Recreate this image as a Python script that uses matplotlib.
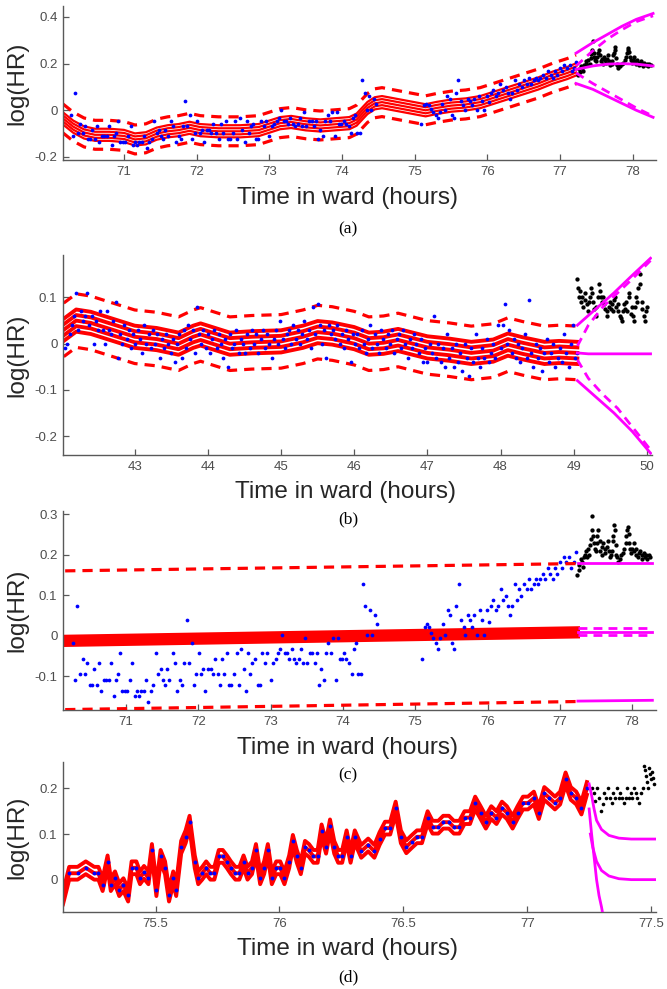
import numpy as np
import matplotlib
matplotlib.use("Agg")
import matplotlib.pyplot as plt
from matplotlib.ticker import FixedLocator, FixedFormatter

# ---------------- data (log HR against time in ward, hours) ----------------
# observed heart rate, record used in panels (a) and (c)
obs_ac = [
    (70.27, -0.019), (70.30, -0.110), (70.33, 0.074), (70.37, -0.096), (70.40, -0.057), (70.43, -0.096),
    (70.46, -0.069), (70.50, -0.122), (70.53, -0.122), (70.56, -0.083), (70.60, -0.122), (70.63, -0.069),
    (70.66, -0.136), (70.70, -0.110), (70.73, -0.110), (70.76, -0.110), (70.79, -0.069), (70.83, -0.150),
    (70.86, -0.110), (70.89, -0.096), (70.92, -0.044), (70.95, -0.136), (70.99, -0.136), (71.02, -0.136),
    (71.05, -0.110), (71.09, -0.069), (71.12, -0.150), (71.15, -0.136), (71.18, -0.150), (71.21, -0.136),
    (71.25, -0.136), (71.28, -0.110), (71.31, -0.163), (71.35, -0.136), (71.38, -0.122), (71.41, -0.044),
    (71.45, -0.096), (71.48, -0.083), (71.51, -0.110), (71.54, -0.122), (71.57, -0.083), (71.60, -0.110),
    (71.65, -0.044), (71.68, -0.069), (71.71, -0.136), (71.75, -0.110), (71.78, -0.122), (71.81, -0.069),
    (71.84, 0.039), (71.87, -0.069), (71.91, -0.019), (71.94, -0.122), (71.97, -0.096), (72.01, -0.044),
    (72.04, -0.096), (72.07, -0.083), (72.10, -0.136), (72.14, -0.083), (72.17, -0.083), (72.20, -0.096),
    (72.23, -0.057), (72.27, -0.096), (72.30, -0.122), (72.33, -0.057), (72.36, -0.096), (72.40, -0.044),
    (72.43, -0.122), (72.46, -0.122), (72.50, -0.096), (72.53, -0.044), (72.56, -0.122), (72.59, -0.032),
    (72.63, -0.083), (72.66, -0.136), (72.69, -0.044), (72.72, -0.096), (72.75, -0.069), (72.78, -0.057),
    (72.82, -0.122), (72.85, -0.122), (72.88, -0.044), (72.92, -0.069), (72.95, -0.044), (73.00, -0.110),
    (73.04, -0.069), (73.07, -0.057), (73.10, -0.044), (73.13, -0.032), (73.16, 0.002), (73.20, -0.044),
    (73.23, -0.044), (73.26, -0.057), (73.29, -0.032), (73.32, -0.057), (73.35, -0.069), (73.39, -0.057),
    (73.42, -0.032), (73.45, -0.069), (73.48, -0.006), (73.51, -0.069), (73.55, -0.044), (73.58, -0.044),
    (73.61, -0.069), (73.64, -0.044), (73.67, -0.123), (73.70, -0.083), (73.74, -0.110), (73.77, -0.044),
    (73.80, -0.019), (73.83, -0.044), (73.86, -0.006), (73.90, -0.110), (73.93, -0.006), (73.96, -0.057),
    (73.99, -0.057), (74.02, -0.044), (74.05, -0.057), (74.09, -0.069), (74.12, -0.096), (74.15, -0.032),
    (74.18, -0.019), (74.21, -0.096), (74.25, -0.096), (74.28, 0.128), (74.31, 0.074), (74.34, 0.002),
    (74.37, 0.062), (74.40, 0.002), (74.44, 0.050), (74.47, 0.029),
    (75.09, -0.057), (75.13, 0.021), (75.16, 0.029), (75.19, 0.021), (75.22, 0.007), (75.25, -0.006),
    (75.29, -0.019), (75.32, -0.032), (75.35, -0.006), (75.38, 0.029), (75.41, 0.002), (75.45, 0.062),
    (75.48, 0.050), (75.51, -0.019), (75.54, -0.032), (75.57, 0.074), (75.60, 0.128), (75.64, 0.039),
    (75.67, 0.021), (75.69, 0.002), (75.73, 0.050), (75.76, 0.039), (75.79, 0.021), (75.82, 0.050),
    (75.86, 0.002), (75.89, 0.062), (75.92, 0.039), (75.95, 0.002), (75.99, 0.062), (76.02, 0.034),
    (76.05, 0.074), (76.08, 0.087), (76.12, 0.062), (76.15, 0.074), (76.18, 0.114), (76.21, 0.087),
    (76.25, 0.098), (76.28, 0.074), (76.31, 0.050), (76.34, 0.074), (76.38, 0.128), (76.41, 0.087),
    (76.44, 0.114), (76.47, 0.098), (76.51, 0.128), (76.54, 0.114), (76.57, 0.140), (76.60, 0.114),
    (76.64, 0.128), (76.67, 0.140), (76.70, 0.128), (76.73, 0.140), (76.77, 0.153), (76.80, 0.140),
    (76.83, 0.167), (76.87, 0.153), (76.90, 0.140), (76.93, 0.167), (76.96, 0.153), (77.00, 0.181),
    (77.03, 0.167), (77.06, 0.194), (77.09, 0.181), (77.13, 0.194), (77.16, 0.167), (77.19, 0.181),
    (77.22, 0.206),
]
# held-out heart rate for panels (a) and (c)
test_ac = [
    (77.24, 0.151), (77.26, 0.175), (77.27, 0.162), (77.29, 0.190), (77.30, 0.183), (77.32, 0.170),
    (77.33, 0.194), (77.35, 0.200), (77.36, 0.210), (77.38, 0.194), (77.39, 0.215), (77.41, 0.200),
    (77.42, 0.225), (77.43, 0.240), (77.44, 0.260), (77.45, 0.295), (77.46, 0.247), (77.47, 0.230),
    (77.48, 0.215), (77.50, 0.210), (77.51, 0.230), (77.52, 0.247), (77.53, 0.260), (77.55, 0.235),
    (77.56, 0.210), (77.58, 0.220), (77.59, 0.200), (77.60, 0.230), (77.62, 0.215), (77.63, 0.204),
    (77.65, 0.220), (77.66, 0.235), (77.68, 0.210), (77.69, 0.194), (77.71, 0.200), (77.72, 0.210),
    (77.73, 0.235), (77.74, 0.247), (77.75, 0.273), (77.76, 0.260), (77.77, 0.225), (77.78, 0.200),
    (77.79, 0.194), (77.80, 0.183), (77.83, 0.190), (77.85, 0.200), (77.87, 0.204), (77.89, 0.215),
    (77.91, 0.230), (77.92, 0.247), (77.93, 0.260), (77.94, 0.268), (77.95, 0.250), (77.96, 0.230),
    (77.97, 0.215), (77.99, 0.204), (78.00, 0.215), (78.02, 0.230), (78.03, 0.210), (78.05, 0.200),
    (78.06, 0.215), (78.08, 0.194), (78.09, 0.204), (78.11, 0.210), (78.13, 0.200), (78.14, 0.190),
    (78.16, 0.204), (78.18, 0.194), (78.19, 0.200), (78.21, 0.190), (78.23, 0.200), (78.25, 0.194),
]

# panel (a): GP fit with short lengthscale
a_mean = [
    (70.16, -0.035), (70.30, -0.070), (70.45, -0.095), (70.60, -0.105), (70.80, -0.105), (71.00, -0.110),
    (71.15, -0.125), (71.30, -0.120), (71.45, -0.100), (71.60, -0.090), (71.75, -0.085), (71.90, -0.075),
    (72.05, -0.085), (72.30, -0.090), (72.60, -0.090), (72.85, -0.085), (73.00, -0.070), (73.15, -0.055),
    (73.30, -0.050), (73.50, -0.060), (73.70, -0.065), (73.90, -0.060), (74.10, -0.055), (74.20, -0.040),
    (74.35, 0.010), (74.45, 0.030), (74.55, 0.035), (75.15, 0.000), (75.30, 0.010), (75.50, 0.020),
    (75.70, 0.025), (75.90, 0.035), (76.10, 0.055), (76.30, 0.075), (76.50, 0.095), (76.70, 0.115),
    (76.90, 0.140), (77.10, 0.160), (77.22, 0.175),
]
a_inner = [0.013, 0.026]
a_outer = 0.062
a_fc_upper = [(77.22, 0.245), (77.45, 0.290), (77.65, 0.325), (77.85, 0.360), (78.05, 0.390), (78.28, 0.415)]
a_fc_upper_dash = [(77.22, 0.190), (77.45, 0.255), (77.65, 0.305), (77.85, 0.345), (78.05, 0.380), (78.28, 0.405)]
a_fc_mean = [(77.22, 0.175), (77.45, 0.190), (77.65, 0.198), (77.85, 0.200), (78.05, 0.198), (78.28, 0.190)]
a_fc_lower_dash = [(77.22, 0.160), (77.45, 0.115), (77.65, 0.080), (77.85, 0.045), (78.05, 0.010), (78.28, -0.025)]
a_fc_lower = [(77.22, 0.115), (77.45, 0.090), (77.65, 0.060), (77.85, 0.030), (78.05, 0.000), (78.28, -0.030)]

# panel (b): a second patient
obs_b = [
    (42.05, -0.01), (42.08, 0.00), (42.11, 0.02), (42.14, 0.04), (42.17, 0.06), (42.20, 0.11), (42.23, 0.03),
    (42.26, 0.07), (42.29, 0.05), (42.32, 0.06), (42.35, 0.11), (42.38, 0.04), (42.41, 0.06), (42.44, 0.00),
    (42.47, 0.05), (42.50, 0.03), (42.53, 0.07), (42.56, 0.03), (42.59, 0.00), (42.62, 0.07), (42.65, 0.03),
    (42.68, 0.02), (42.71, 0.05), (42.74, 0.09), (42.77, -0.03), (42.80, 0.02), (42.83, 0.00), (42.86, 0.04),
    (42.89, 0.01), (42.92, 0.03), (42.95, -0.01), (42.98, 0.02), (43.01, 0.00), (43.04, 0.03), (43.07, 0.01),
    (43.10, -0.02), (43.13, 0.04), (43.16, 0.00), (43.19, 0.02), (43.22, -0.01), (43.25, 0.03), (43.28, 0.00),
    (43.31, 0.02), (43.34, -0.03), (43.37, 0.01), (43.40, -0.01), (43.43, 0.02), (43.46, 0.00), (43.49, -0.02),
    (43.52, 0.01), (43.55, -0.04), (43.58, 0.00), (43.61, 0.02), (43.64, -0.03), (43.67, 0.03), (43.70, -0.01),
    (43.73, 0.04), (43.76, 0.01), (43.79, 0.03), (43.82, -0.02), (43.85, 0.08), (43.88, 0.02), (43.91, 0.00),
    (43.94, 0.03), (43.97, -0.01), (44.00, 0.02), (44.03, -0.02), (44.06, 0.01), (44.09, 0.03), (44.12, -0.01),
    (44.15, 0.02), (44.18, 0.00), (44.21, -0.03), (44.24, 0.01), (44.27, -0.05), (44.30, 0.02), (44.33, -0.01),
    (44.36, 0.00), (44.39, 0.03), (44.42, -0.02), (44.45, 0.01), (44.48, 0.00), (44.51, -0.02), (44.54, 0.02),
    (44.57, -0.01), (44.60, 0.03), (44.63, 0.00), (44.66, 0.02), (44.69, -0.02), (44.72, 0.01), (44.75, 0.03),
    (44.78, -0.01), (44.81, 0.02), (44.84, 0.00), (44.87, -0.03), (44.90, 0.01), (44.93, 0.03), (44.96, 0.00),
    (44.99, 0.05), (45.02, 0.01), (45.05, -0.01), (45.08, 0.02), (45.11, 0.03), (45.14, 0.00), (45.17, 0.04),
    (45.20, 0.01), (45.23, 0.03), (45.26, 0.00), (45.29, 0.02), (45.32, 0.05), (45.35, 0.01), (45.38, 0.03),
    (45.41, -0.01), (45.44, 0.08), (45.47, 0.02), (45.50, 0.085), (45.53, 0.04), (45.56, 0.00), (45.59, 0.03),
    (45.62, -0.03), (45.65, 0.04), (45.68, 0.02), (45.71, 0.03), (45.74, 0.01), (45.77, 0.04), (45.80, 0.00),
    (45.83, 0.02), (45.86, -0.01), (45.89, 0.03), (45.92, 0.01), (45.95, -0.04), (45.98, 0.02), (46.01, 0.00),
    (46.04, 0.02), (46.07, -0.01), (46.10, 0.03), (46.13, 0.00), (46.16, -0.02), (46.19, 0.01), (46.22, 0.04),
    (46.25, -0.01), (46.28, 0.02), (46.31, 0.00), (46.34, -0.02), (46.37, 0.03), (46.40, 0.01), (46.43, -0.01),
    (46.46, 0.02), (46.49, 0.00), (46.52, 0.03), (46.55, -0.02), (46.58, 0.01), (46.61, 0.02), (46.64, -0.01),
    (46.67, 0.03), (46.70, 0.00), (46.73, -0.03), (46.76, 0.01), (46.79, -0.01), (46.82, 0.02), (46.85, 0.00),
    (46.88, -0.02), (46.91, 0.01), (46.94, -0.04), (46.97, -0.01), (47.00, -0.04), (47.03, 0.00), (47.06, -0.02),
    (47.09, 0.06), (47.12, -0.03), (47.15, 0.00), (47.18, -0.04), (47.21, -0.01), (47.24, -0.05), (47.27, 0.02),
    (47.30, -0.03), (47.33, -0.01), (47.36, -0.05), (47.39, 0.00), (47.42, -0.04), (47.45, -0.02), (47.48, -0.06),
    (47.51, 0.00), (47.54, -0.03), (47.57, -0.07), (47.60, -0.01), (47.63, -0.04), (47.66, 0.02), (47.69, -0.03),
    (47.72, -0.05), (47.75, -0.01), (47.78, -0.03), (47.81, 0.01), (47.84, -0.04), (47.87, -0.02), (47.90, 0.00),
    (47.93, -0.03), (47.96, 0.04), (48.00, -0.01), (48.03, 0.04), (48.06, 0.085), (48.09, 0.00), (48.12, 0.03),
    (48.15, -0.02), (48.18, 0.01), (48.21, -0.03), (48.24, 0.00), (48.27, -0.04), (48.30, -0.01), (48.33, 0.02),
    (48.36, -0.03), (48.39, 0.095), (48.42, -0.02), (48.45, -0.05), (48.48, 0.00), (48.51, -0.03), (48.54, -0.01),
    (48.57, -0.06), (48.60, -0.02), (48.63, 0.01), (48.66, -0.04), (48.69, -0.02), (48.72, 0.00), (48.75, -0.05),
    (48.78, -0.03), (48.81, -0.01), (48.84, -0.04), (48.87, 0.02), (48.90, -0.02), (48.93, -0.05), (48.96, 0.00),
    (48.99, 0.04), (49.02, -0.03), (49.05, -0.02),
]
test_b = [
    (49.05, 0.140), (49.06, 0.120), (49.07, 0.100), (49.09, 0.115), (49.10, 0.090), (49.12, 0.100),
    (49.13, 0.080), (49.15, 0.110), (49.16, 0.095), (49.18, 0.085), (49.19, 0.070), (49.21, 0.090),
    (49.22, 0.100), (49.24, 0.120), (49.25, 0.110), (49.27, 0.090), (49.28, 0.075), (49.30, 0.060),
    (49.31, 0.080), (49.33, 0.100), (49.34, 0.130), (49.36, 0.115), (49.37, 0.100), (49.39, 0.090),
    (49.40, 0.100), (49.42, 0.085), (49.43, 0.075), (49.45, 0.070), (49.46, 0.060), (49.48, 0.080),
    (49.49, 0.090), (49.51, 0.075), (49.52, 0.085), (49.54, 0.070), (49.55, 0.095), (49.57, 0.100),
    (49.58, 0.080), (49.60, 0.070), (49.61, 0.085), (49.63, 0.060), (49.64, 0.055), (49.66, 0.050),
    (49.67, 0.070), (49.69, 0.085), (49.70, 0.075), (49.72, 0.090), (49.73, 0.070), (49.75, 0.110),
    (49.76, 0.100), (49.78, 0.065), (49.79, 0.080), (49.81, 0.060), (49.82, 0.050), (49.84, 0.080),
    (49.85, 0.100), (49.87, 0.090), (49.88, 0.120), (49.90, 0.150), (49.91, 0.130), (49.93, 0.090),
    (49.94, 0.075), (49.96, 0.060), (49.97, 0.050), (49.99, 0.070), (50.00, 0.080),
]
b_mean = [
    (42.03, 0.030), (42.20, 0.050), (42.40, 0.045), (42.60, 0.035), (42.80, 0.025), (43.00, 0.015),
    (43.30, 0.010), (43.60, 0.000), (43.80, 0.015), (43.90, 0.020), (44.10, 0.010), (44.30, 0.000),
    (44.60, 0.003), (45.00, 0.005), (45.30, 0.015), (45.50, 0.025), (45.70, 0.022), (46.00, 0.012),
    (46.20, 0.000), (46.40, 0.002), (46.60, 0.008), (46.80, 0.000), (47.00, -0.008), (47.30, -0.013),
    (47.60, -0.020), (47.90, -0.015), (48.10, -0.002), (48.30, -0.010), (48.60, -0.020), (48.80, -0.018),
    (49.05, -0.020),
]
b_inner = [0.012, 0.024]
b_outer = 0.058
b_fc_upper = [(49.05, 0.040), (49.30, 0.075), (49.55, 0.110), (49.80, 0.148), (50.05, 0.185)]
b_fc_upper_dash = [(49.05, -0.005), (49.20, 0.040), (49.40, 0.080), (49.60, 0.110), (49.80, 0.140), (50.05, 0.180)]
b_fc_mean = [(49.05, -0.020), (49.20, -0.022), (50.05, -0.022)]
b_fc_lower_dash = [(49.05, -0.035), (49.20, -0.075), (49.40, -0.110), (49.60, -0.140), (49.80, -0.180), (50.05, -0.230)]
b_fc_lower = [(49.05, -0.080), (49.30, -0.115), (49.55, -0.150), (49.80, -0.190), (50.05, -0.237)]

# panel (c): long lengthscale fit on the same record as (a)
c_mean = [(70.16, -0.013), (77.25, 0.008)]
c_inner = [0.005, 0.010]
c_upper_dash = [(70.16, 0.160), (77.25, 0.178)]
c_lower_dash = [(70.16, -0.183), (77.25, -0.163)]
c_fc_upper = [(77.25, 0.180), (78.28, 0.180)]
c_fc_mean = [(77.25, 0.010), (78.28, 0.010)]
c_fc_dash_width = 0.009
c_fc_lower = [(77.25, -0.162), (78.28, -0.160)]

# panel (d): zoom on the last two hours of (a)
d_fit_start = (75.126, -0.040)
obs_d = [
    (75.151, 0.014), (75.185, 0.014), (75.218, 0.026), (75.252, 0.014), (75.269, 0.014), (75.286, -0.011),
    (75.306, 0.039), (75.319, -0.011), (75.336, 0.004), (75.353, -0.022), (75.370, -0.011), (75.389, -0.034),
    (75.403, 0.026), (75.422, 0.026), (75.437, 0.004), (75.453, 0.016), (75.471, 0.004), (75.485, 0.064),
    (75.503, -0.022), (75.520, 0.051), (75.538, 0.026), (75.554, -0.034), (75.571, 0.004), (75.583, -0.022),
    (75.603, 0.071), (75.621, 0.094), (75.637, 0.126), (75.658, 0.039), (75.672, 0.004), (75.688, 0.014),
    (75.704, 0.026), (75.721, 0.014), (75.737, 0.014), (75.755, 0.051), (75.771, 0.051), (75.788, 0.039),
    (75.804, 0.026), (75.822, 0.014), (75.838, 0.014), (75.855, 0.039), (75.871, 0.014), (75.889, 0.026),
    (75.905, 0.064), (75.922, 0.004), (75.938, 0.026), (75.953, 0.064), (75.969, 0.004), (75.987, 0.026),
    (76.003, 0.026), (76.020, 0.004), (76.039, 0.039), (76.054, 0.084), (76.070, 0.051), (76.086, 0.026),
    (76.103, 0.071), (76.119, 0.064), (76.137, 0.051), (76.154, 0.051), (76.170, 0.107), (76.188, 0.071),
    (76.204, 0.118), (76.221, 0.071), (76.237, 0.051), (76.253, 0.051), (76.271, 0.094), (76.287, 0.051),
    (76.304, 0.094), (76.330, 0.062), (76.358, 0.076), (76.383, 0.062), (76.404, 0.090), (76.426, 0.113),
    (76.447, 0.113), (76.469, 0.157), (76.490, 0.094), (76.512, 0.072), (76.533, 0.083), (76.555, 0.094),
    (76.575, 0.094), (76.598, 0.136), (76.618, 0.115), (76.641, 0.115), (76.661, 0.126), (76.684, 0.126),
    (76.704, 0.115), (76.726, 0.115), (76.747, 0.136), (76.769, 0.136), (76.790, 0.168), (76.812, 0.147),
    (76.833, 0.126), (76.855, 0.147), (76.876, 0.136), (76.898, 0.157), (76.918, 0.147), (76.941, 0.126),
    (76.961, 0.147), (76.983, 0.168), (77.003, 0.168), (77.027, 0.179), (77.047, 0.147), (77.069, 0.189),
    (77.090, 0.179), (77.112, 0.168), (77.133, 0.179), (77.155, 0.221), (77.176, 0.189), (77.198, 0.179),
    (77.219, 0.157), (77.241, 0.200),
]
d_inner = [0.014]
test_d = [
    (77.262, 0.200), (77.268, 0.189), (77.275, 0.172), (77.282, 0.200), (77.290, 0.180), (77.298, 0.150),
    (77.305, 0.165), (77.312, 0.189), (77.320, 0.180), (77.327, 0.200), (77.334, 0.180), (77.341, 0.168),
    (77.348, 0.189), (77.355, 0.180), (77.362, 0.200), (77.369, 0.180), (77.376, 0.189), (77.383, 0.180),
    (77.390, 0.168), (77.397, 0.180), (77.404, 0.200), (77.411, 0.180), (77.418, 0.189), (77.425, 0.180),
    (77.432, 0.200), (77.438, 0.189), (77.445, 0.180), (77.452, 0.168), (77.459, 0.189), (77.466, 0.200),
    (77.470, 0.250), (77.474, 0.240), (77.478, 0.228), (77.482, 0.215), (77.486, 0.200), (77.490, 0.245),
    (77.494, 0.232), (77.498, 0.220), (77.502, 0.236), (77.506, 0.222), (77.510, 0.210),
]
d_fc_upper = [(77.250, 0.210), (77.260, 0.185), (77.270, 0.155), (77.280, 0.130), (77.300, 0.110),
              (77.330, 0.097), (77.370, 0.091), (77.420, 0.089), (77.520, 0.089)]
d_fc_mean = [(77.255, 0.100), (77.265, 0.070), (77.280, 0.040), (77.300, 0.020), (77.330, 0.008),
             (77.370, 0.002), (77.420, 0.000), (77.520, 0.000)]
d_fc_lower = [(77.250, 0.155), (77.260, 0.100), (77.270, 0.050), (77.280, 0.000), (77.290, -0.035),
              (77.300, -0.060), (77.305, -0.075)]

# axis ranges and ticks
a_xlim, a_ylim = (70.16, 78.32), (-0.213, 0.447)
b_xlim, b_ylim = (42.02, 50.07), (-0.241, 0.192)
c_xlim, c_ylim = (70.13, 78.33), (-0.184, 0.308)
d_xlim, d_ylim = (75.126, 77.52), (-0.071, 0.258)
ac_xticks = [71, 72, 73, 74, 75, 76, 77, 78]
ac_xticklabels = ["71", "72", "73", "74", "75", "76", "77", "78"]
b_xticks = [43, 44, 45, 46, 47, 48, 49, 50]
b_xticklabels = ["43", "44", "45", "46", "47", "48", "49", "50"]
d_xticks = [75.5, 76, 76.5, 77, 77.5]
d_xticklabels = ["75.5", "76", "76.5", "77", "77.5"]
a_yticks, a_yticklabels = [-0.2, 0, 0.2, 0.4], ["-0.2", "0", "0.2", "0.4"]
b_yticks, b_yticklabels = [-0.2, -0.1, 0, 0.1], ["-0.2", "-0.1", "0", "0.1"]
c_yticks, c_yticklabels = [-0.1, 0, 0.1, 0.2, 0.3], ["-0.1", "0", "0.1", "0.2", "0.3"]
d_yticks, d_yticklabels = [0, 0.1, 0.2], ["0", "0.1", "0.2"]
captions = ["(a)", "(b)", "(c)", "(d)"]

# ---------------- drawing ----------------
RED = "#ff0000"
MAG = "#ff00ff"
BLUE = "#0000ff"
AXC = "#595959"
SANS = ["Liberation Sans", "DejaVu Sans"]
SERIF = ["Liberation Serif", "DejaVu Serif"]

W, H = 667, 989
fig = plt.figure(figsize=(W / 100, H / 100), dpi=100)


def px_axes(left, top, right, bottom):
    return fig.add_axes([left / W, 1 - bottom / H, (right - left) / W, (bottom - top) / H])


def xy(pairs):
    arr = np.array(pairs, dtype=float)
    return arr[:, 0], arr[:, 1]


def draw_fit(ax, mean, inner, lw=2.2, outer=None):
    t, v = xy(mean)
    if outer is not None:
        ax.plot(t, v + outer, color=RED, lw=2.3, dashes=(3.2, 2.2))
        ax.plot(t, v - outer, color=RED, lw=2.3, dashes=(3.2, 2.2))
    for w in inner:
        ax.plot(t, v + w, color=RED, lw=lw)
        ax.plot(t, v - w, color=RED, lw=lw)
    ax.plot(t, v, color=RED, lw=lw)


def dots(ax, pairs, color, ms=2.7):
    t, v = xy(pairs)
    ax.plot(t, v, "o", color=color, ms=ms, mew=0, zorder=4)


def line(ax, pairs, color=MAG, lw=2.0, dashed=False):
    t, v = xy(pairs)
    kw = {"dashes": (3.2, 2.2)} if dashed else {}
    ax.plot(t, v, color=color, lw=lw, zorder=5, **kw)


def style(ax, xlim, ylim, xt, xtl, yt, ytl, label_y_px):
    ax.set_xlim(*xlim)
    ax.set_ylim(*ylim)
    ax.xaxis.set_major_locator(FixedLocator(xt))
    ax.xaxis.set_major_formatter(FixedFormatter(xtl))
    ax.yaxis.set_major_locator(FixedLocator(yt))
    ax.yaxis.set_major_formatter(FixedFormatter(ytl))
    for s in ("top", "right"):
        ax.spines[s].set_visible(False)
    for s in ("left", "bottom"):
        ax.spines[s].set_color(AXC)
        ax.spines[s].set_linewidth(1.0)
    ax.tick_params(direction="in", length=4, width=0.9, color=AXC, labelsize=9.5,
                   labelcolor="#4d4d4d", pad=4)
    for lab in ax.get_xticklabels() + ax.get_yticklabels():
        lab.set_family(SANS)
    ax.set_xlabel("Time in ward (hours)", fontsize=17.5, family=SANS, color="#262626", va="center")
    # x label centre sits label_y_px pixels under the axis line
    ax.xaxis.set_label_coords(0.48, -label_y_px / (ax.get_position().height * H))
    ax.set_ylabel("log(HR)", fontsize=17.5, family=SANS, color="#262626")
    ax.yaxis.set_label_coords(-0.058, 0.5)


# (a)
ax = px_axes(63, 6, 656, 160)
draw_fit(ax, a_mean, a_inner, lw=1.6, outer=a_outer)
dots(ax, obs_ac, BLUE)
dots(ax, test_ac, "black", ms=3.1)
line(ax, a_fc_upper)
line(ax, a_fc_upper_dash, dashed=True)
line(ax, a_fc_mean)
line(ax, a_fc_lower_dash, dashed=True)
line(ax, a_fc_lower)
style(ax, a_xlim, a_ylim, ac_xticks, ac_xticklabels, a_yticks, a_yticklabels, 38)

# (b)
ax = px_axes(63, 255, 652, 455)
draw_fit(ax, b_mean, b_inner, lw=2.8, outer=b_outer)
dots(ax, obs_b, BLUE)
dots(ax, test_b, "black", ms=3.1)
line(ax, b_fc_upper)
line(ax, b_fc_upper_dash, dashed=True)
line(ax, b_fc_mean)
line(ax, b_fc_lower_dash, dashed=True)
line(ax, b_fc_lower)
style(ax, b_xlim, b_ylim, b_xticks, b_xticklabels, b_yticks, b_yticklabels, 37)

# (c)
ax = px_axes(63, 511, 656, 710)
draw_fit(ax, c_mean, c_inner, lw=3.0)
line(ax, c_upper_dash, color=RED, lw=2.3, dashed=True)
line(ax, c_lower_dash, color=RED, lw=2.3, dashed=True)
dots(ax, obs_ac, BLUE)
dots(ax, test_ac, "black", ms=3.1)
line(ax, c_fc_upper)
line(ax, c_fc_mean)
tm, vm = xy(c_fc_mean)
ax.plot(tm, vm + c_fc_dash_width, color=MAG, lw=2.0, dashes=(3.2, 2.2), zorder=5)
ax.plot(tm, vm - c_fc_dash_width, color=MAG, lw=2.0, dashes=(3.2, 2.2), zorder=5)
line(ax, c_fc_lower)
style(ax, c_xlim, c_ylim, ac_xticks, ac_xticklabels, c_yticks, c_yticklabels, 38)

# (d)
ax = px_axes(63, 762, 656, 912)
draw_fit(ax, [d_fit_start] + obs_d, d_inner, lw=2.8)
dots(ax, obs_d, BLUE, ms=2.8)
dots(ax, test_d, "black", ms=2.6)
line(ax, d_fc_upper)
line(ax, d_fc_mean)
line(ax, d_fc_lower)
style(ax, d_xlim, d_ylim, d_xticks, d_xticklabels, d_yticks, d_yticklabels, 37)

for cap, ypix in zip(captions, [229, 519, 775, 977]):
    fig.text(348 / W, 1 - ypix / H, cap, ha="center", va="center", fontsize=12.5,
             family=SERIF, color="black")

fig.savefig("out.png", dpi=100)
